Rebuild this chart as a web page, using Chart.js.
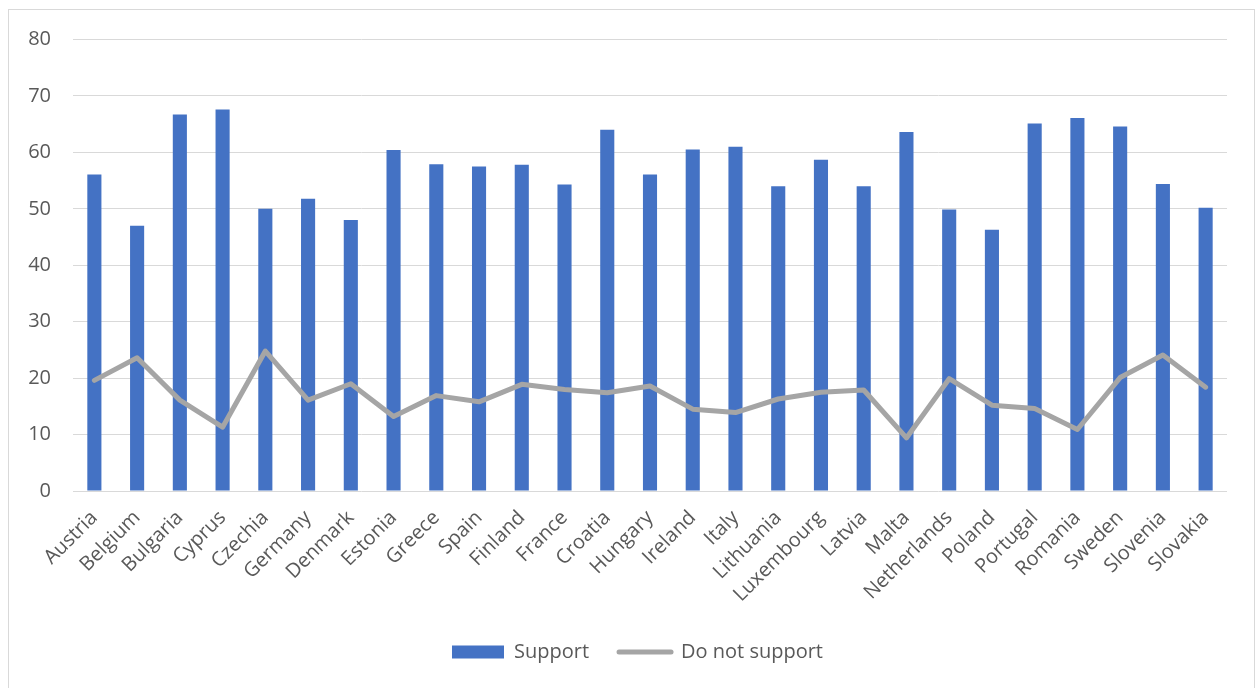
<!DOCTYPE html>
<html>
<head>
<meta charset="utf-8">
<script src="https://cdn.jsdelivr.net/npm/chart.js@4/dist/chart.umd.min.js"></script>
<style>
  html, body { margin: 0; padding: 0; background: #fff; }
  #frame { position: absolute; left: 8px; top: 9px; width: 1247px; height: 690px; border: 1px solid #D9D9D9; box-sizing: border-box; }
  #wrap { position: absolute; left: 1px; top: 1px; width: 1245px; height: 678px; }
</style>
</head>
<body>
<div id="frame"><div id="wrap"><canvas id="c"></canvas></div></div>
<script>
const countries = ["Austria","Belgium","Bulgaria","Cyprus","Czechia","Germany","Denmark","Estonia","Greece","Spain","Finland","France","Croatia","Hungary","Ireland","Italy","Lithuania","Luxembourg","Latvia","Malta","Netherlands","Poland","Portugal","Romania","Sweden","Slovenia","Slovakia"];
const support = [56.1,47.0,66.7,67.6,50.0,51.8,48.0,60.4,57.9,57.5,57.8,54.3,64.0,56.1,60.5,61.0,54.0,58.7,54.0,63.6,49.9,46.3,65.1,66.1,64.6,54.4,50.2];
const doNotSupport = [19.6,23.6,16.1,11.3,24.8,16.1,19.0,13.2,16.9,15.8,18.9,18.0,17.4,18.6,14.5,13.9,16.3,17.5,17.9,9.4,19.9,15.2,14.6,10.9,20.1,24.1,18.4];
const yTicks = [0,10,20,30,40,50,60,70,80];

const FONT = "'Open Sans', 'Noto Sans', sans-serif";
const TXT = '#595959';

const legendShift = {
  id: 'legendShift',
  afterLayout(chart) {
    if (chart.legend) { chart.legend.left += 19; chart.legend.right += 19; }
  }
};

new Chart(document.getElementById('c'), {
  data: {
    labels: countries,
    datasets: [
      { type: 'bar', label: 'Support', data: support, backgroundColor: '#4472C4', borderColor: '#B4C7E7', borderWidth: 0, categoryPercentage: 1.0, barPercentage: 0.33, order: 2 },
      { type: 'line', label: 'Do not support', data: doNotSupport, borderColor: '#A5A5A5', backgroundColor: '#A5A5A5', borderWidth: 5, pointRadius: 0, tension: 0, borderJoinStyle: 'round', borderCapStyle: 'round', order: 1 }
    ]
  },
  plugins: [legendShift],
  options: {
    responsive: true,
    maintainAspectRatio: false,
    animation: false,
    layout: { padding: { top: 28.5, right: 28, bottom: 17, left: 0 } },
    plugins: {
      tooltip: { enabled: false },
      legend: {
        position: 'bottom',
        labels: {
          color: TXT,
          font: { family: FONT, size: 20 },
          usePointStyle: true,
          pointStyleWidth: 52,
          boxHeight: 13,
          padding: 30,
          generateLabels: (chart) => [
            { text: 'Support', fillStyle: '#4472C4', strokeStyle: '#4472C4', lineWidth: 0, pointStyle: 'rect', datasetIndex: 0, fontColor: TXT },
            { text: 'Do not support', fillStyle: '#A5A5A5', strokeStyle: '#A5A5A5', lineWidth: 5, lineCap: 'round', pointStyle: 'line', datasetIndex: 1, fontColor: TXT }
          ]
        }
      }
    },
    scales: {
      x: {
        grid: { display: false, drawTicks: false },
        border: { display: false },
        ticks: { color: TXT, font: { family: FONT, size: 20 }, minRotation: 45, maxRotation: 45, padding: 15, autoSkip: false },
        afterFit: (s) => { s.height = 121; }
      },
      y: {
        min: 0, max: 80,
        afterBuildTicks: (s) => { s.ticks = yTicks.map(v => ({ value: v })); },
        grid: { color: '#D9D9D9', lineWidth: 1, drawTicks: false },
        border: { display: false },
        ticks: { color: TXT, font: { family: FONT, size: 20 }, padding: 22 },
        afterFit: (s) => { s.width = 63; s.paddingTop = 0; s.paddingBottom = 0; }
      }
    }
  }
});
</script>
</body>
</html>
